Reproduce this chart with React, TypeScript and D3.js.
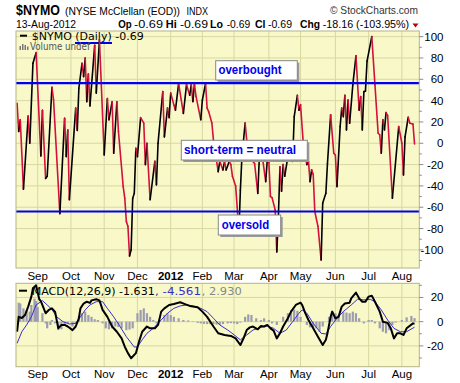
import React from "react";
import * as d3 from "d3";

// trading-day index (0 = 1-Sep-2011), value
const nymo: [number, number][] = [
  [-13, 37.5], [-12, 11], [-11, 22], [-9, -43], [-6, 25.6], [-5, 0], [-3, 75], [-2, 80], [-1, 85],
  [2, -12], [3, 31], [5, -33], [6, -31], [9, 52.5], [10, 41], [14, -66], [17, 23.4], [18, -12.5],
  [19, 12.5], [20, -53], [24, 33], [25, 12], [26, 51.6], [28, 75], [29, 62.5], [30, 80], [31, 39],
  [32, 65], [33, 35], [36, 92], [37, 47], [39, 97], [42, -11], [44, 42], [45, 22], [47, 39],
  [48, -9.4], [50, 39], [51, 11], [54, -40.7], [55, -51.6], [56, -73.5], [57, -78], [58, -105.7],
  [59, -100], [60, -51.6], [61, -47], [62, -4.7], [63, -12.5], [65, 24], [67, 18.8], [68, -20],
  [69, 0], [71, -53], [74, -17], [75, -39], [76, 0], [79, 48.4], [80, 6], [82, 33], [83, 24],
  [84, 47], [86, 36], [87, 31], [89, 56], [92, 28], [94, 55], [96, 45], [97, 55], [98, 39],
  [99, 55], [100, 44], [103, 22], [104, 40.6], [106, 56], [107, 33], [108, 29.6], [110, 19],
  [111, 3], [113, -17], [114, -26.6], [115, -17], [117, -25], [118, -17], [119, -25], [121, -17],
  [122, -20], [123, -31], [125, -40], [126, -60], [127, -87], [128, -44], [129, -12], [130, 3],
  [131, 19], [132, 3], [135, -15.6], [137, -19], [139, -47], [140, -12.5], [141, -16], [142, -14],
  [144, -36], [145, -15.6], [146, -18], [147, -50], [148, -51], [150, -62.6], [151, -102],
  [152, -69], [153, -22], [154, -45], [155, -20], [156, -31], [158, -12.5], [159, -16], [160, -10],
  [161, -17], [162, 25], [164, 45], [165, 31], [166, 36], [168, -6], [170, -20], [171, -17],
  [172, -36], [173, -25], [174, -29], [175, -64], [177, -78], [179, -109.5], [180, -56], [182, -47],
  [183, -19], [185, 26.6], [187, -9.4], [188, -11], [189, -40.7], [191, 15.6], [192, 33], [193, 25],
  [194, 45], [195, 12.5], [196, 40.6], [197, 18.8], [199, 54.7], [201, 82], [203, 31], [204, 43.7],
  [205, 12.5], [206, 48.4], [207, 49], [208, 77], [211, 100], [213, 54.7], [215, 9.4], [216, 8],
  [217, -9.4], [218, 22], [219, 12.5], [220, 28.8], [221, 26], [224, -51.6], [228, 15.6], [230, 0],
  [231, -29.7], [232, 6], [234, 24.4], [235, 18.8], [237, 18], [238, -0.69],
];

const macdLine: [number, number][] = [
  [-13, -8.3], [-12, 4], [-10, 3], [-8, 5.5], [-6, 12.4], [-4, 20.7], [-3, 27.6], [-1, 30], [1, 18.5],
  [2, 17], [5, 7], [7, 9.7], [9, 11], [11, 8], [13, -5.5], [15, -2.7], [17, -2.7], [19, -4], [22, -7],
  [24, -4], [26, 2.8], [27, 11], [29, 15], [31, 16.5], [33, 15.5], [34, 17.6], [37, 18.5], [39, 17.6],
  [41, 9.7], [44, 4], [47, -4], [50, -8.3], [53, -13.8], [55, -20.7], [57, -26], [59, -30.2],
  [62, -26], [64, -16.5], [66, -8.3], [69, -4], [71, -5.5], [74, -5.5], [76, -2.7], [78, 8.3],
  [80, 11], [83, 13.8], [86, 14.6], [90, 16], [93, 14.5], [96, 13], [101, 11.9], [104, 8.3],
  [107, 4], [111, -4], [114, -9.6], [118, -11], [122, -11.8], [125, -13.8], [128, -19.3],
  [130, -13.8], [132, -6.9], [134, -4.7], [136, -4], [139, -6.3], [141, -3.6], [143, -4],
  [145, -2.7], [147, -5.5], [149, -7.4], [151, -13.8], [153, -9.6], [155, -4], [158, 2.8],
  [160, 8.3], [163, 13.8], [166, 15.7], [167, 13.8], [169, 7], [171, 1.4], [174, -5.5],
  [177, -12.4], [180, -19.3], [182, -15], [183, -9.6], [185, 4], [186, 8.3], [188, 2.8], [190, 4],
  [192, 12.4], [194, 15], [197, 15.7], [198, 19.3], [201, 24], [203, 19.3], [205, 16.5],
  [207, 16.5], [209, 20.7], [211, 21.5], [213, 16.5], [216, 8.3], [218, 0], [221, -1], [223, -5.5],
  [225, -13.8], [227, -9.6], [229, -9.6], [231, -11], [233, -5.5], [237, -1.4], [238, -1.631],
];

const signalLine: [number, number][] = [
  [-13, -17.9], [-10, -8.3], [-7, -2.7], [-4, 4], [-1, 13.8], [3, 17.4], [6, 13.8], [9, 10.2],
  [12, 4], [16, 0], [20, -1.9], [24, -1.4], [27, 4], [30, 9.7], [33, 13.8], [37, 16.5], [41, 16.5],
  [44, 11], [48, 4], [52, -4], [56, -12.4], [61, -21], [63, -20.7], [66, -15], [69, -9.6],
  [73, -5.5], [77, 0], [82, 7], [86, 11], [90, 13], [94, 13.8], [98, 13], [103, 11], [107, 8.3],
  [111, 2.8], [115, -2.7], [120, -6.9], [122, -8.8], [128, -15], [132, -11], [136, -6.9],
  [141, -4.7], [145, -3.6], [149, -5.5], [153, -9.6], [157, -6.9], [161, 0], [165, 7], [167, 9.7],
  [170, 7], [174, -1.4], [179, -9.6], [182, -10.2], [185, -4], [189, 2.8], [193, 8.3], [198, 13.8],
  [202, 18.5], [206, 18], [210, 18.5], [213, 16.5], [217, 9.7], [221, 1.4], [225, -5.5],
  [229, -8.3], [233, -8.3], [238, -4.561],
];

const histogram: [number, number][] = [
  [-12, 15.7], [-11, 15], [-9, 11], [-7, 9.6], [-5, 8.3], [-4, 13.8], [-2, 19], [-1, 17], [0, 12],
  [3, 7], [5, -1.4], [6, -5.5], [8, -2.7], [9, 1.4], [11, -1.4], [13, -7], [15, -6.3], [17, -2.7],
  [19, -1.4], [22, -4], [24, -1.4], [26, 4], [28, 7], [30, 8.3], [32, 5.5], [34, 4], [36, 2],
  [38, 1.4], [41, -1.4], [43, -5.5], [45, -6.3], [47, -5.5], [49, -4], [51, -4.5], [53, -5.5],
  [56, -7], [58, -6.5], [60, -5.5], [62, 0], [63, 7], [65, 9.6], [67, 11], [69, 7], [71, 4],
  [73, 1.4], [75, -1.4], [77, 1.4], [80, 5.5], [82, 7], [84, 5.5], [86, 4], [89, 2.8], [92, 1.4],
  [95, 1], [98, 0.3], [101, -1], [103, -1.4], [105, -1.8], [107, -2], [109, -2], [111, -2],
  [113, -2.4], [115, -2.7], [117, -2], [120, -1.4], [122, -1.2], [124, -1.4], [126, -2], [128, -0.8],
  [131, 4], [133, 6], [135, 5.5], [138, 2.8], [141, 1.4], [143, 2.8], [146, 1.4], [148, -1.4],
  [151, -2.7], [153, 0], [155, 4], [158, 7], [160, 9.6], [162, 10], [164, 9], [166, 4], [168, 0],
  [170, -2.7], [172, -4.7], [174, -5], [176, -5.5], [178, -8.3], [180, -4], [182, 0], [184, 4],
  [186, 8.3], [188, 7], [190, 5.5], [193, 8.3], [195, 7.5], [197, 7], [199, 8.3], [201, 7],
  [203, 2.8], [206, -1.4], [209, 1.4], [211, 1.4], [213, -1.4], [216, -5.5], [218, -8.3],
  [220, -9.6], [222, -7], [224, -2.7], [226, -0.8], [228, 0], [230, 1.4], [233, 3.6], [236, 4.7],
  [238, 2.93],
];

const monthTicks: [number, string][] = [
  [0, "Sep"], [21, "Oct"], [42, "Nov"], [63, "Dec"], [84, "2012"], [104, "Feb"], [124, "Mar"],
  [146, "Apr"], [166, "May"], [188, "Jun"], [209, "Jul"], [230, "Aug"],
];
const nymoTicks = [100, 80, 60, 40, 20, 0, -20, -40, -60, -80, -100];
const macdTicks = [20, 0, -20];
const overbought = 56.5;
const oversold = -64;

const FONT = "'Liberation Sans', Arial, sans-serif";
const LFONT = "'DejaVu Sans', Verdana, sans-serif";
const BG = "#f8f8c8";
const GRID = "#d8d8a2";
const BORDER = "#b4b488";
const RED = "#d4103c";

export default function App() {
  const x = d3.scaleLinear().domain([-13.7, 241]).range([16, 419.3]);
  const y = d3.scaleLinear().domain([-117, 105.3]).range([268, 31]);
  const ym = d3.scaleLinear().domain([-37.2, 31.7]).range([366.7, 283.3]);
  const L = 16, R = 419.3;
  const lineGen = d3.line<[number, number]>().x((d) => x(d[0])).y((d) => ym(d[1]));
  const segLine = d3.line<[number, number]>().x((d) => x(d[0])).y((d) => y(d[1]));
  const minorMain = d3.range(-110, 105, 10).filter((v) => v % 20 !== 0);
  const minorMacd = d3.range(-30, 31, 10).filter((v) => v % 20 !== 0);

  const boxes = [
    { label: "overbought", x0: 215.7, y0: 60.7, w: 81.6, h: 19.3, tx: 218.5, ty: 74.3, tl: 63 },
    { label: "short-term = neutral", x0: 181.3, y0: 140.3, w: 126, h: 19.7, tx: 184, ty: 154.3, tl: 112 },
    { label: "oversold", x0: 218.3, y0: 215, w: 62.4, h: 20, tx: 221.7, ty: 229, tl: 47.5 },
  ];

  return (
    <svg width={460} height={383} style={{ position: "absolute", left: 0, top: 0, background: "#fff" }}>
      <defs>
        <clipPath id="mainClip"><rect x={L} y={31} width={R - L} height={237} /></clipPath>
        <clipPath id="macdClip"><rect x={L} y={283.3} width={R - L} height={83.4} /></clipPath>
      </defs>
      {/* Header */}
      <text x={16} y={15} fontFamily={FONT} fontWeight="bold" fontSize={14.5} textLength={44} lengthAdjust="spacingAndGlyphs">$NYMO</text>
      <text x={65} y={14.5} fontFamily={FONT} fontSize={10.4} textLength={115} lengthAdjust="spacingAndGlyphs">(NYSE McClellan (EOD))</text>
      <text x={186.5} y={14.5} fontFamily={FONT} fontSize={10} textLength={21.5} lengthAdjust="spacingAndGlyphs">INDX</text>
      <text x={330} y={13.5} fontFamily={FONT} fontSize={11} fill="#333" textLength={88} lengthAdjust="spacingAndGlyphs">© StockCharts.com</text>
      <text x={16} y={27.5} fontFamily={FONT} fontSize={11} textLength={60} lengthAdjust="spacingAndGlyphs">13-Aug-2012</text>
      <g fontFamily={FONT} fontSize={11}>
        <text x={118.3} y={27.5} fontWeight="bold" fontSize={11.5} textLength={13.5} lengthAdjust="spacingAndGlyphs">Op</text>
        <text x={134} y={27.5} textLength={29} lengthAdjust="spacingAndGlyphs">-0.69</text>
        <text x={165.7} y={27.5} fontWeight="bold" fontSize={11.5} textLength={11} lengthAdjust="spacingAndGlyphs">Hi</text>
        <text x={180} y={27.5} textLength={28} lengthAdjust="spacingAndGlyphs">-0.69</text>
        <text x={210} y={27.5} fontWeight="bold" fontSize={11.5} textLength={13} lengthAdjust="spacingAndGlyphs">Lo</text>
        <text x={226.7} y={27.5} textLength={23.5} lengthAdjust="spacingAndGlyphs">-0.69</text>
        <text x={255} y={27.5} fontWeight="bold" fontSize={11.5} textLength={10.5} lengthAdjust="spacingAndGlyphs">Cl</text>
        <text x={268} y={27.5} textLength={24} lengthAdjust="spacingAndGlyphs">-0.69</text>
        <text x={300} y={27.5} fontWeight="bold" fontSize={11.5} textLength={20} lengthAdjust="spacingAndGlyphs">Chg</text>
        <text x={322.7} y={27.5} textLength={86.5} lengthAdjust="spacingAndGlyphs">-18.16 (-103.95%)</text>
      </g>
      <path d="M412.5,23.5 L418.5,23.5 L415.5,27.5 Z" fill="#c00000" />

      {/* Main panel */}
      <rect x={L} y={31} width={R - L} height={237} fill={BG} />
      {nymoTicks.map((t) => (
        <line key={"hg" + t} x1={L} x2={R} y1={y(t)} y2={y(t)} stroke={GRID} strokeWidth={1} />
      ))}
      {monthTicks.map(([d, l]) => (
        <line key={"vg" + l} x1={x(d)} x2={x(d)} y1={31} y2={268} stroke={GRID} strokeWidth={1} />
      ))}
      {/* legend */}
      <line x1={20} x2={27} y1={35.7} y2={35.7} stroke="#000" strokeWidth={2} />
      <text x={31.7} y={39.5} fontFamily={LFONT} fontSize={10.5} textLength={112} lengthAdjust="spacingAndGlyphs">$NYMO (Daily) -0.69</text>
      <line x1={75} x2={112} y1={43} y2={43} stroke="#0000ee" strokeWidth={2} />
      <g fill="#777">
        <rect x={19.5} y={46} width={1.5} height={4} />
        <rect x={22} y={44} width={1.5} height={6} />
        <rect x={24.5} y={45} width={1.5} height={5} />
        <rect x={27} y={46.5} width={1.5} height={3.5} />
      </g>
      <text x={30} y={50} fontFamily={LFONT} fontSize={10.5} fill="#555" textLength={60} lengthAdjust="spacingAndGlyphs">Volume undef</text>

      <g clipPath="url(#mainClip)" fill="none" strokeWidth={1.6} strokeLinejoin="round" strokeLinecap="round">
        {nymo.slice(1).map((p, i) => {
          const prev = nymo[i];
          return (
            <path key={"s" + i} d={segLine([prev, p]) || ""} stroke={p[1] >= prev[1] ? "#000" : RED} />
          );
        })}
      </g>
      <line x1={L} x2={R} y1={y(overbought)} y2={y(overbought)} stroke="#0000ee" strokeWidth={2.2} />
      <line x1={L} x2={R} y1={y(oversold)} y2={y(oversold)} stroke="#0000ee" strokeWidth={2.2} />
      {boxes.map((b) => (
        <g key={b.label}>
          <rect x={b.x0 + 2} y={b.y0 + 2} width={b.w} height={b.h} fill="#9a9a9a" />
          <rect x={b.x0} y={b.y0} width={b.w} height={b.h} fill="#fff" stroke="#888" strokeWidth={1} />
          <text x={b.tx} y={b.ty} fontFamily={FONT} fontWeight="bold" fontSize={12.5} fill="#0000ee" textLength={b.tl} lengthAdjust="spacingAndGlyphs">{b.label}</text>
        </g>
      ))}
      <rect x={L} y={31} width={R - L} height={237} fill="none" stroke={BORDER} strokeWidth={1} />
      {nymoTicks.map((t) => (
        <g key={"yt" + t}>
          <line x1={R} x2={R + 4} y1={y(t)} y2={y(t)} stroke="#888" />
          <text x={443.5} y={y(t) + 4} textAnchor="end" fontFamily={FONT} fontSize={11.5}>{t}</text>
        </g>
      ))}
      {minorMain.map((t) => (
        <line key={"ym" + t} x1={R} x2={R + 2.5} y1={y(t)} y2={y(t)} stroke="#888" />
      ))}

      {/* Month labels (both rows) */}
      {[279.5, 378].map((by) =>
        monthTicks.map(([d, l]) => (
          <text key={by + l} x={x(d)} y={by} textAnchor="middle" fontFamily={FONT} fontSize={11.5}
            fontWeight={l === "2012" ? "bold" : "normal"}>{l}</text>
        ))
      )}

      {/* MACD panel */}
      <rect x={L} y={283.3} width={R - L} height={83.4} fill={BG} />
      {macdTicks.map((t) => (
        <line key={"mg" + t} x1={L} x2={R} y1={ym(t)} y2={ym(t)} stroke={GRID} />
      ))}
      {monthTicks.map(([d, l]) => (
        <line key={"mv" + l} x1={x(d)} x2={x(d)} y1={283.3} y2={366.7} stroke={GRID} />
      ))}
      <g clipPath="url(#macdClip)">
        {histogram.map(([d, v]) => (
          <rect key={"h" + d} x={x(d) - 1.1} width={2.2} y={Math.min(ym(v), ym(0))}
            height={Math.abs(ym(v) - ym(0))} fill="#9c9cb0" />
        ))}
        <path d={lineGen(signalLine) || ""} fill="none" stroke="#3a2ed0" strokeWidth={1} />
        <path d={lineGen(macdLine) || ""} fill="none" stroke="#000" strokeWidth={2} strokeLinejoin="round" />
      </g>
      <line x1={19} x2={27} y1={290.7} y2={290.7} stroke="#000" strokeWidth={2} />
      <text y={294.5} fontFamily={LFONT} fontSize={10.5}>
        <tspan x={31.7} textLength={123} lengthAdjust="spacingAndGlyphs">MACD(12,26,9) -1.631</tspan>
        <tspan x={155} fill="#3a2ed0" textLength={46} lengthAdjust="spacingAndGlyphs">, -4.561</tspan>
        <tspan x={201.7} fill="#888" textLength={40} lengthAdjust="spacingAndGlyphs">, 2.930</tspan>
      </text>
      <rect x={L} y={283.3} width={R - L} height={83.4} fill="none" stroke={BORDER} />
      {macdTicks.map((t) => (
        <g key={"myt" + t}>
          <line x1={R} x2={R + 4} y1={ym(t)} y2={ym(t)} stroke="#888" />
          <text x={443.5} y={ym(t) + 4} textAnchor="end" fontFamily={FONT} fontSize={11.5}>{t}</text>
        </g>
      ))}
      {minorMacd.map((t) => (
        <line key={"mym" + t} x1={R} x2={R + 2.5} y1={ym(t)} y2={ym(t)} stroke="#888" />
      ))}
    </svg>
  );
}
